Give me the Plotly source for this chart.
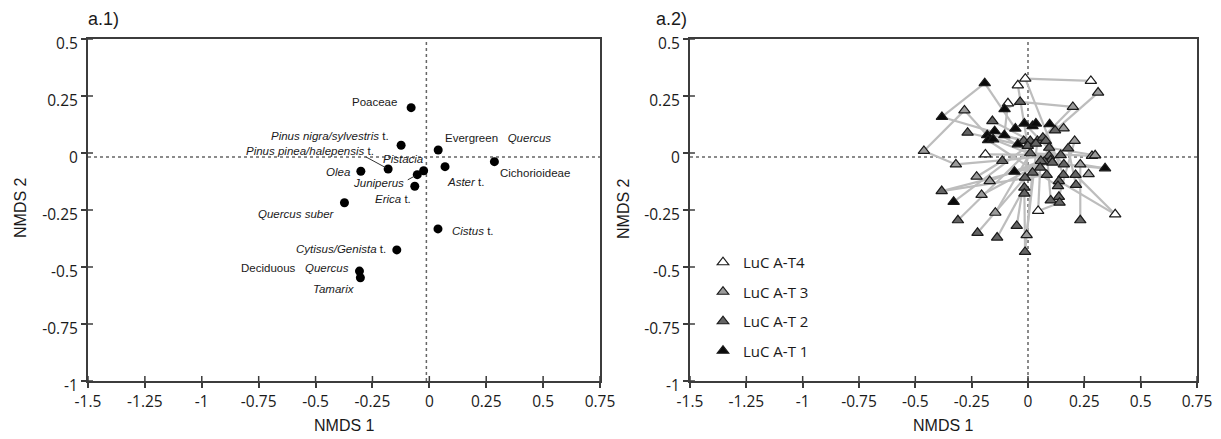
import plotly.graph_objects as go

# ---------------- data: panel a.1 (taxa scores) ----------------
taxa_names = ["Poaceae", "Pinus nigra/sylvestris t.", "Pinus pinea/halepensis t.",
              "Evergreen Quercus", "Pistacia", "Olea", "Juniperus", "Aster t.",
              "Cichorioideae", "Erica t.", "Quercus suber", "Cistus t.",
              "Cytisus/Genista t.", "Deciduous Quercus", "Tamarix"]
taxa_labels = ["Poaceae", "<i>Pinus nigra/sylvestris</i> t.", "<i>Pinus pinea/halepensis</i> t.",
               "Evergreen&nbsp;&nbsp; <i>Quercus</i>", "<i>Pistacia</i>", "<i>Olea</i>",
               "<i>Juniperus</i>", "<i>Aster</i> t.", "Cichorioideae", "<i>Erica</i> t.",
               "<i>Quercus suber</i>", "<i>Cistus</i> t.", "<i>Cytisus/Genista</i> t.",
               "Deciduous&nbsp;&nbsp; <i>Quercus</i>", "<i>Tamarix</i>"]
taxa_x = [-0.080, -0.124, -0.181, 0.039, -0.025, -0.301, -0.053, 0.069,
          0.286, -0.064, -0.373, 0.038, -0.143, -0.307, -0.303]
taxa_y = [0.199, 0.034, -0.070, 0.013, -0.078, -0.080, -0.095, -0.060,
          -0.038, -0.146, -0.218, -0.333, -0.425, -0.518, -0.547]

# ---------------- data: panel a.2 (samples per time slice) ----------------
t4_x = [-0.012, -0.045, 0.279, -0.089, -0.189, 0.045, 0.387]
t4_y = [0.326, 0.297, 0.316, 0.218, -0.006, -0.254, -0.269]

t3_x = [0.311, 0.199, -0.282, 0.158, 0.207, -0.462, 0.284, 0.298, -0.320, 0.232,
        0.269, -0.228, -0.170, -0.206, -0.145, -0.006]
t3_y = [0.265, 0.202, 0.187, 0.108, 0.053, 0.009, -0.013, -0.010, -0.050, -0.050,
        -0.093, -0.104, -0.123, -0.184, -0.262, -0.360]

t2_x = [-0.035, -0.158, -0.268, 0.120, -0.019, 0.010, 0.042, 0.066, 0.079, -0.001,
        0.035, 0.178, 0.145, 0.094, 0.094, 0.101, 0.072, 0.010, -0.114, 0.057,
        0.108, 0.159, 0.211, 0.157, 0.137, 0.133, 0.083, 0.054, 0.020, -0.013,
        0.213, -0.383, -0.016, -0.016, 0.101, 0.137, 0.140, -0.311, -0.224, -0.137,
        -0.050, 0.232, -0.013]
t2_y = [0.224, 0.140, 0.089, 0.099, 0.053, 0.053, 0.053, 0.067, 0.053, 0.031,
        0.041, 0.020, -0.009, 0.023, -0.013, -0.032, -0.038, -0.001, -0.035, -0.035,
        -0.042, -0.050, -0.096, -0.096, -0.123, -0.145, -0.096, -0.064, -0.086, -0.108,
        -0.140, -0.167, -0.152, -0.178, -0.208, -0.192, -0.218, -0.295, -0.350, -0.371,
        -0.320, -0.295, -0.434]

t1_x = [-0.192, -0.104, -0.382, -0.181, -0.148, -0.177, -0.155, -0.105, -0.056, -0.016,
        0.020, 0.035, 0.096, -0.045, -0.060, 0.342, -0.330]
t1_y = [0.306, 0.192, 0.158, 0.078, 0.096, 0.056, 0.060, 0.078, 0.107, 0.129,
        0.118, 0.129, 0.126, 0.038, -0.082, -0.067, -0.214]

# connections between samples (series, index) -> (series, index)
links = [
    ("T4", 0, "T4", 2), ("T4", 0, "T2", 23), ("T4", 1, "T2", 9), ("T1", 0, "T1", 2),
    ("T1", 0, "T1", 8), ("T1", 2, "T2", 4), ("T3", 5, "T3", 2), ("T3", 5, "T3", 8),
    ("T3", 2, "T1", 3), ("T3", 0, "T2", 3), ("T3", 1, "T2", 0), ("T3", 1, "T2", 7),
    ("T2", 0, "T1", 1), ("T4", 3, "T1", 7), ("T4", 4, "T2", 12), ("T3", 6, "T2", 17),
    ("T3", 7, "T2", 13), ("T1", 15, "T2", 21), ("T1", 15, "T3", 9), ("T4", 6, "T2", 22),
    ("T4", 6, "T2", 24), ("T2", 41, "T3", 9), ("T2", 31, "T2", 26), ("T2", 31, "T2", 20),
    ("T1", 16, "T2", 9), ("T2", 37, "T2", 10), ("T2", 38, "T2", 29), ("T2", 39, "T2", 32),
    ("T2", 40, "T2", 5), ("T2", 42, "T2", 33), ("T2", 42, "T2", 28), ("T3", 15, "T2", 6),
    ("T3", 14, "T2", 17), ("T3", 13, "T2", 16), ("T3", 12, "T2", 19), ("T3", 11, "T2", 18),
    ("T3", 8, "T2", 14), ("T4", 5, "T2", 27), ("T4", 5, "T2", 36), ("T2", 34, "T2", 8),
    ("T2", 35, "T3", 4), ("T2", 30, "T2", 11), ("T1", 14, "T2", 15), ("T2", 1, "T2", 10),
    ("T2", 2, "T1", 13), ("T1", 12, "T3", 3), ("T1", 5, "T2", 25), ("T1", 6, "T2", 20),
    ("T1", 3, "T2", 6), ("T1", 9, "T2", 21), ("T1", 4, "T2", 16),
]

x_ticks = [-1.5, -1.25, -1, -0.75, -0.5, -0.25, 0, 0.25, 0.5, 0.75]
y_ticks = [-1, -0.75, -0.5, -0.25, 0, 0.25, 0.5]
x_ticklabels = ["-1.5", "-1.25", "-1", "-0.75", "-0.5", "-0.25", "0", "0.25", "0.5", "0.75"]
y_ticklabels = ["-1", "-0.75", "-0.5", "-0.25", "0", "0.25", "0.5"]

# ---------------- styles ----------------
W, H = 1221, 439
TXT = "#1a1a1a"
AX = "#3c3c3c"
LAB_FONT = "Liberation Sans, Arial, sans-serif"
TICK_FONT = "Open Sans, sans-serif"
X_RANGE = [-1.5, 0.75]
Y_RANGE = [-1, 0.5]
IN_TICK = 0.022  # inner half of the crossing tick marks, in data units (~5 px)

# label placement (anchor, xshift px, yshift px) and optional leader (ax, ay)
label_style = [
    ("right", -12, 6, None), ("right", -10, 9, None), ("right", -12, 18, (-24, -13)),
    ("left", 5, 12, None), ("center", -21, 12, None), ("right", -9, -1, None),
    ("right", -11, -8, (-11, 6)), ("left", 0, -15, None), ("left", 4, -11, None),
    ("right", -2, -13, None), ("right", -7, -11, None), ("left", 12, -2, None),
    ("right", -9, 1, None), ("right", -8, 3, None), ("center", -26, -11, None),
]

series = {
    "T4": (t4_x, t4_y, "LuC A-T4", "#ffffff"),
    "T3": (t3_x, t3_y, "LuC A-T 3", "#9b9b9b"),
    "T2": (t2_x, t2_y, "LuC A-T 2", "#646464"),
    "T1": (t1_x, t1_y, "LuC A-T 1", "#0a0a0a"),
}

fig = go.Figure()

# left panel points
fig.add_trace(go.Scatter(x=taxa_x, y=taxa_y, mode="markers", xaxis="x", yaxis="y",
                         marker=dict(color="#000000", size=9), showlegend=False,
                         text=taxa_names, hoverinfo="text"))

# right panel links
lx, ly = [], []
for s1, i1, s2, i2 in links:
    a, b = series[s1], series[s2]
    lx += [a[0][i1], b[0][i2], None]
    ly += [a[1][i1], b[1][i2], None]
fig.add_trace(go.Scatter(x=lx, y=ly, mode="lines", xaxis="x2", yaxis="y2",
                         line=dict(color="#bdbdbd", width=2.2), showlegend=False,
                         hoverinfo="skip"))

for key in ["T4", "T3", "T2", "T1"]:
    xs, ys, name, col = series[key]
    fig.add_trace(go.Scatter(x=xs, y=ys, mode="markers", xaxis="x2", yaxis="y2",
                             name=name, legendgroup=key,
                             marker=dict(symbol="triangle-up", size=10, color=col,
                                         line=dict(color="#1a1a1a", width=1.2))))

# labels for left panel
for lab, x, y, st in zip(taxa_labels, taxa_x, taxa_y, label_style):
    anchor, xs, ys, leader = st
    fig.add_annotation(x=x, y=y, xref="x", yref="y", text=lab, showarrow=False,
                       xanchor=anchor, yanchor="middle", xshift=xs, yshift=ys,
                       font=dict(family=LAB_FONT, size=11.5, color=TXT))
    if leader is not None:
        fig.add_annotation(x=x, y=y, xref="x", yref="y", text="", showarrow=True,
                           ax=leader[0], ay=leader[1], arrowhead=0, arrowwidth=1,
                           arrowcolor="#333333", standoff=3)

# dotted reference lines + inner halves of the crossing ticks
for xr, yr, x0 in [("x", "y", -0.013), ("x2", "y2", 0.0)]:
    fig.add_shape(type="line", xref=xr, yref=yr, x0=x0, x1=x0, y0=Y_RANGE[0], y1=Y_RANGE[1],
                  line=dict(color="#666666", width=1.5, dash="dot"), layer="below")
    fig.add_shape(type="line", xref=xr, yref=yr, x0=X_RANGE[0], x1=X_RANGE[1],
                  y0=-0.018, y1=-0.018,
                  line=dict(color="#666666", width=1.5, dash="dot"), layer="below")
    for t in x_ticks:
        fig.add_shape(type="line", xref=xr, yref=yr, x0=t, x1=t, y0=Y_RANGE[0],
                      y1=Y_RANGE[0] + IN_TICK, line=dict(color=AX, width=1.5))
    for t in y_ticks:
        fig.add_shape(type="line", xref=xr, yref=yr, x0=X_RANGE[0], x1=X_RANGE[0] + IN_TICK,
                      y0=t, y1=t, line=dict(color=AX, width=1.5))

xl = [88 / W, 600 / W]
xr_ = [690 / W, 1197 / W]
yd = [(H - 381) / H, (H - 39) / H]

base_x = dict(range=X_RANGE, tickvals=x_ticks, ticktext=x_ticklabels, showgrid=False,
              zeroline=False, showline=True, linecolor=AX, linewidth=2, mirror=True,
              ticks="outside", ticklen=5, tickwidth=1.5, tickcolor=AX,
              tickfont=dict(family=TICK_FONT, size=15.5, color=TXT), automargin=False)
base_y = dict(range=Y_RANGE, tickvals=y_ticks, ticktext=y_ticklabels, showgrid=False,
              zeroline=False, showline=True, linecolor=AX, linewidth=2, mirror=True,
              ticks="outside", ticklen=5, tickwidth=1.5, tickcolor=AX, ticklabelshift=5,
              tickfont=dict(family=TICK_FONT, size=15.5, color=TXT), automargin=False)

fig.update_layout(
    width=W, height=H, margin=dict(l=0, r=0, t=0, b=0),
    paper_bgcolor="white", plot_bgcolor="white",
    xaxis=dict(base_x, domain=xl, anchor="y"),
    yaxis=dict(base_y, domain=yd, anchor="x"),
    xaxis2=dict(base_x, domain=xr_, anchor="y2"),
    yaxis2=dict(base_y, domain=yd, anchor="x2"),
    showlegend=True,
    legend=dict(x=703 / W, y=(H - 246) / H, xanchor="left", yanchor="top",
                bgcolor="rgba(0,0,0,0)", tracegroupgap=7, traceorder="grouped",
                font=dict(family=TICK_FONT, size=15, color=TXT), itemclick=False),
)

# titles
for txt, x, y in [("a.1)", 86, 19), ("a.2)", 654, 19)]:
    fig.add_annotation(x=x / W, y=(H - y) / H, xref="paper", yref="paper", text=txt,
                       showarrow=False, xanchor="left", yanchor="middle",
                       font=dict(family=LAB_FONT, size=18, color=TXT))
for x in [344, 943]:
    fig.add_annotation(x=x / W, y=(H - 425) / H, xref="paper", yref="paper", text="NMDS 1",
                       showarrow=False, xanchor="center", yanchor="middle",
                       font=dict(family=LAB_FONT, size=16, color=TXT))
for x in [20, 623]:
    fig.add_annotation(x=x / W, y=(H - 208) / H, xref="paper", yref="paper", text="NMDS 2",
                       showarrow=False, xanchor="center", yanchor="middle", textangle=-90,
                       font=dict(family=LAB_FONT, size=16, color=TXT))

fig.write_html("out.html")
